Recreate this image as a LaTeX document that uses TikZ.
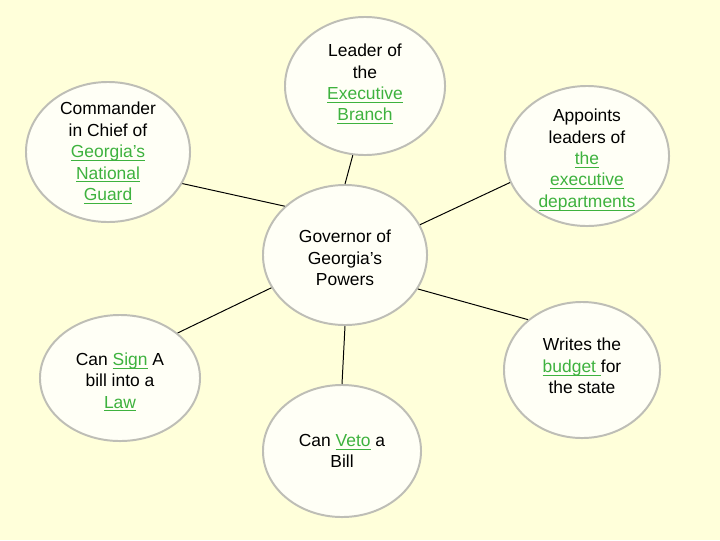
\documentclass[tikz,border=0pt]{standalone}
\usepackage{fontspec}
\setmainfont{Liberation Sans}
\usepackage{tikz}
\usetikzlibrary{shapes.geometric}

\definecolor{bgyellow}{RGB}{255,255,218}
\definecolor{bubblefill}{RGB}{255,255,246}
\definecolor{bubbleline}{RGB}{190,190,182}
\definecolor{linkgreen}{RGB}{62,178,62}
\newcommand{\lnk}[1]{\textcolor{linkgreen}{\setbox0\hbox{#1}\rlap{\rule[-2.3pt]{\wd0}{0.65pt}}\box0}}

\tikzset{
  bubble/.style={ellipse, draw=bubbleline, fill=bubblefill, line width=1.4pt, inner sep=0pt},
  btext/.style={align=center, inner sep=0pt, font=\fontsize{12.4pt}{15.2pt}\selectfont},
  spoke/.style={draw=black, line width=0.7pt}
}

\begin{document}
\begin{tikzpicture}[x=0.025cm, y=-0.025cm]
  \fill[bgyellow] (0,0) rectangle (720,540);
  \useasboundingbox (0,0) rectangle (720,540);

  % bubbles
  \node[bubble, minimum width=4.1cm, minimum height=3.5cm] (gov) at (345,255) {};
  \node[bubble, minimum width=4.1cm, minimum height=3.5cm] (cmd) at (108,152) {};
  \node[bubble, minimum width=4.0cm, minimum height=3.45cm] (lead) at (365,86) {};
  \node[bubble, minimum width=4.1cm, minimum height=3.5cm] (appt) at (587,156) {};
  \node[bubble, minimum width=4.0cm, minimum height=3.15cm] (sign) at (120,378) {};
  \node[bubble, minimum width=3.9cm, minimum height=3.4cm] (budget) at (582,370) {};
  \node[bubble, minimum width=3.95cm, minimum height=3.3cm] (veto) at (342,451) {};

  % texts
  \node[btext] (gov-t) at (345,258) {Governor of\\Georgia's\\Powers};
  \node[btext] (cmd-t) at (108,153) {Commander\\in Chief of\\\lnk{Georgia's}\\\lnk{National}\\\lnk{Guard}};
  \node[btext] (lead-t) at (365,84) {Leader of\\the\\\lnk{Executive}\\\lnk{Branch}};
  \node[btext] (appt-t) at (587,160) {Appoints\\leaders of\\\lnk{the}\\\lnk{executive}\\\lnk{departments}};
  \node[btext] (sign-t) at (120,382) {Can \lnk{Sign} A\\bill into a\\\lnk{Law}};
  \node[btext] (budget-t) at (582,366) {Writes the\\\lnk{budget\ }for\\the state};
  \node[btext] (veto-t) at (342,451) {Can \lnk{Veto} a\\Bill};

  % spokes
  \draw[spoke] (cmd.-23) -- (gov.141);
  \draw[spoke] (lead.-100) -- (gov.90);
  \draw[spoke] (appt.199) -- (gov.22);
  \draw[spoke] (sign.38) -- (gov.204);
  \draw[spoke] (budget.137) -- (gov.-25);
  \draw[spoke] (veto.90) -- (gov.-90);
\end{tikzpicture}
\end{document}
